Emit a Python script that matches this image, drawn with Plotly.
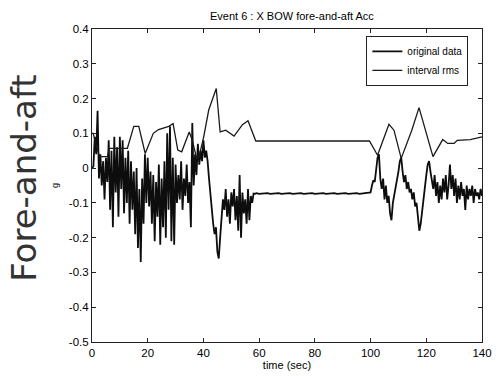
import numpy as np
import plotly.graph_objects as go

# ---- data ----
# noisy part 0..58.5 s, 0.5 s spacing
t_a = np.arange(0, 58.5 + 0.01, 0.5)
v_a = [0.00, 0.005, 0.09, 0.04, 0.165, -0.03, 0.04, -0.05, 0.02, -0.09,
       0.03, -0.04, 0.08, -0.12, 0.05, -0.17, 0.09, -0.07, 0.06, -0.14,
       0.09, -0.06, 0.08, -0.13, 0.03, -0.10, 0.05, -0.16, 0.02, -0.12,
       -0.01, -0.19, 0.00, -0.23, -0.06, -0.27, -0.03, -0.16, 0.04, -0.10,
       0.03, -0.11, -0.01, -0.16, -0.02, -0.21, -0.04, -0.14, 0.01, -0.22,
       -0.03, -0.17, 0.02, -0.20, 0.10, -0.12, 0.12, -0.21, 0.03, -0.22,
       0.01, -0.10, -0.02, -0.09, 0.02, -0.12, -0.03, -0.08, 0.01, -0.10,
       -0.04, -0.17, 0.13, -0.05, 0.04, -0.02, 0.07, 0.01, 0.05, 0.02,
       0.08, 0.03, 0.05, 0.02, -0.03, -0.08, -0.12, -0.16, -0.19, -0.17,
       -0.24, -0.26, -0.20, -0.13, -0.09, -0.12, -0.06, -0.14, -0.09, -0.16,
       -0.07, -0.11, -0.06, -0.15, -0.08, -0.18, -0.02, -0.20, -0.07, -0.13,
       -0.09, -0.16, -0.06, -0.15, -0.08, -0.10, -0.073, -0.074]
# quiet part 59..99 s, 1 s spacing
t_b = np.arange(59, 99 + 0.01, 1.0)
v_b = [-0.072, -0.074, -0.073, -0.074, -0.072, -0.074, -0.073, -0.074, -0.072, -0.074,
       -0.073, -0.074, -0.072, -0.074, -0.073, -0.074, -0.072, -0.074, -0.073, -0.074,
       -0.072, -0.074, -0.073, -0.074, -0.072, -0.074, -0.073, -0.074, -0.072, -0.074,
       -0.073, -0.074, -0.072, -0.074, -0.073, -0.074, -0.072, -0.074, -0.073, -0.072,
       -0.071]
# noisy part 100..140 s, 0.5 s spacing
t_c = np.arange(100, 140 + 0.01, 0.5)
v_c = [-0.07, -0.05, -0.035, -0.04, 0.00, 0.03, 0.04, -0.03, -0.06, -0.03,
       -0.09, -0.05, -0.10, -0.08, -0.13, -0.15, -0.10, -0.08, -0.05, -0.03,
       -0.01, 0.02, 0.03, -0.01, -0.04, -0.02, -0.06, -0.04, -0.07, -0.06,
       -0.09, -0.07, -0.11, -0.10, -0.14, -0.18, -0.16, -0.12, -0.08, -0.05,
       -0.02, 0.01, 0.02, -0.01, -0.03, -0.06, -0.02, -0.08, -0.04, -0.10,
       -0.05, -0.09, -0.03, -0.07, -0.02, -0.09, -0.05, 0.01, -0.06, -0.02,
       -0.08, -0.03, -0.10, -0.05, -0.09, -0.04, -0.08, -0.06, -0.12, -0.05,
       -0.09, -0.06, -0.08, -0.05, -0.10, -0.06, -0.08, -0.07, -0.09, -0.06,
       -0.08]

rms_t = [0, 0.4, 2.7, 5.6, 6.2, 12.7, 15, 16.8, 19.1, 22, 23.9, 27.3, 29.1,
         30.8, 32.2, 34.9, 36.0, 37.5, 38.5, 40.1, 41.9, 44.6, 46.0, 48.0,
         51.0, 54.0, 56.0, 58.8, 99.6, 102.5, 106.6, 108.4, 111.0, 113.0,
         114.8, 117.4, 120.6, 122.4, 125.9, 127.7, 130.0, 131.1, 135.8, 140.0]
rms_v = [0.10, 0.10, 0.033, 0.033, 0.057, 0.057, 0.12, 0.12, 0.042, 0.10,
         0.111, 0.119, 0.128, 0.052, 0.047, 0.104, 0.08, 0.03, 0.035, 0.09,
         0.167, 0.229, 0.104, 0.109, 0.092, 0.125, 0.136, 0.078, 0.078, 0.037,
         0.126, 0.109, 0.028, 0.071, 0.109, 0.174, 0.08, 0.033, 0.082, 0.071,
         0.071, 0.08, 0.082, 0.09]

orig_t = list(t_a) + list(t_b) + list(t_c)
orig_v = v_a + v_b + v_c

x_ticks = [0, 20, 40, 60, 80, 100, 120, 140]
y_ticks = [0.4, 0.3, 0.2, 0.1, 0, -0.1, -0.2, -0.3, -0.4, -0.5]
y_text = ["0.4", "0.3", "0.2", "0.1", "0", "-0.1", "-0.2", "-0.3", "-0.4", "-0.5"]

FONT = "Liberation Sans, Arial, sans-serif"

fig = go.Figure()
fig.add_trace(go.Scatter(x=orig_t, y=orig_v, mode="lines", name="original data",
                         line=dict(color="#0d0d0d", width=1.8)))
fig.add_trace(go.Scatter(x=rms_t, y=rms_v, mode="lines", name="interval rms",
                         line=dict(color="#1a1a1a", width=1.3)))

axis_common = dict(showline=True, linecolor="#222222", linewidth=1, mirror="ticks",
                   ticks="inside", ticklen=4, tickcolor="#222222", showgrid=False,
                   zeroline=False, tickfont=dict(family=FONT, size=11.5, color="#000000"))

fig.update_layout(
    width=502, height=379,
    margin=dict(l=92, r=10, t=29, b=37),
    paper_bgcolor="white", plot_bgcolor="white",
    font=dict(family=FONT, color="#000000"),
    title=dict(text="Event 6 : X BOW fore-and-aft Acc", x=0.5815, xanchor="center",
               y=0.957, yanchor="middle", font=dict(size=11, family=FONT, color="#000000")),
    xaxis=dict(range=[0, 140], tickvals=x_ticks, ticktext=[str(v) for v in x_ticks],
               title=dict(text="time (sec)", font=dict(size=11, family=FONT), standoff=2),
               **axis_common),
    yaxis=dict(range=[-0.5, 0.4], tickvals=y_ticks, ticktext=y_text,
               title=dict(text="g", font=dict(size=9, family=FONT), standoff=8),
               **axis_common),
    legend=dict(x=0.965, y=0.978, xanchor="right", yanchor="top",
                bordercolor="#222222", borderwidth=1, bgcolor="white",
                font=dict(size=10, family=FONT, color="#000000"),
                tracegroupgap=0, itemwidth=30),
    showlegend=True,
)

fig.add_annotation(text="Fore-and-aft", xref="paper", yref="paper",
                   x=-0.175, y=0.524, xanchor="center", yanchor="middle",
                   textangle=-90, showarrow=False,
                   font=dict(family="DejaVu Sans, sans-serif", size=34, color="#333333"))

fig.write_html("out.html")
